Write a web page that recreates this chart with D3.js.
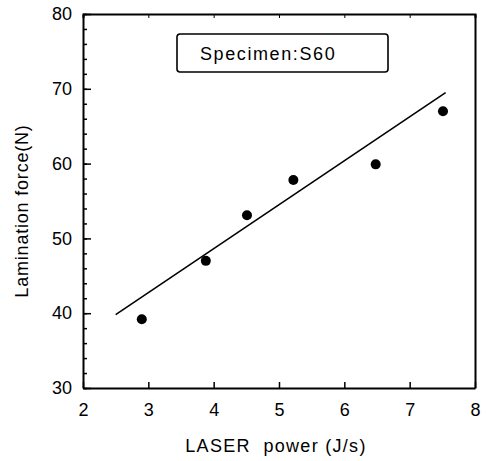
<!DOCTYPE html>
<html>
<head>
<meta charset="utf-8">
<script src="https://cdn.jsdelivr.net/npm/d3@7"></script>
<style>
  body { margin: 0; background: #fff; }
  svg { display: block; font-family: "Liberation Sans", Arial, sans-serif; }
  .axis path, .axis line { stroke: #000; }
  .axis text { font-size: 18px; fill: #000; }
</style>
</head>
<body>
<div id="container"></div>
<script>
/* data */
var powerVals = [2.9, 3.88, 4.51, 5.22, 6.48, 7.51],
	forceVals = [39.2, 47.0, 53.1, 57.8, 59.9, 67.0];
var fitX = [2.5, 7.55],
	fitY = [39.8, 69.5];
var xTicks = [2, 3, 4, 5, 6, 7, 8],
	yTicks = [30, 40, 50, 60, 70, 80],
	yMinor = d3.range(30, 81, 2);
var legendText = "Specimen:S60";

var w = 486, h = 461;
var margin = {top: 14, right: 11, bottom: 73, left: 83};
var width = w - margin.left - margin.right,
	height = h - margin.top - margin.bottom;

var svg = d3.select('#container').append('svg')
	.attr('width', w)
	.attr('height', h);

var chart = svg.append('g')
	.attr('transform', 'translate(' + margin.left + ',' + margin.top + ')');

/* scales */
var xScale = d3.scaleLinear().domain([2, 8]).range([0, width]),
	yScale = d3.scaleLinear().domain([30, 80]).range([height, 0]);

/* frame: top and right sides */
chart.append('g')
	.classed('axis', true)
	.call(d3.axisTop(xScale).tickValues(xTicks.slice(1, -1)).tickSize(-4).tickFormat(''))
	.select('.domain').attr('stroke-width', 2);

chart.append('g')
	.classed('axis', true)
	.attr('transform', 'translate(' + width + ',0)')
	.call(d3.axisRight(yScale).tickValues([]).tickSizeOuter(0))
	.select('.domain').attr('stroke-width', 2);

/* x axis */
var xAxis = chart.append('g')
	.classed('axis', true)
	.attr('transform', 'translate(0,' + height + ')')
	.call(d3.axisBottom(xScale).tickValues(xTicks).tickFormat(d3.format('d'))
		.tickSize(-6).tickSizeOuter(0).tickPadding(15));
xAxis.select('.domain').attr('stroke-width', 2);
xAxis.selectAll('line').attr('stroke-width', 1.5);

/* y axis, minor then major */
chart.append('g')
	.classed('axis', true)
	.call(d3.axisLeft(yScale).tickValues(yMinor).tickSize(-4).tickFormat(''))
	.selectAll('line').attr('stroke-width', 1.5);

var yAxis = chart.append('g')
	.classed('axis', true)
	.call(d3.axisLeft(yScale).tickValues(yTicks).tickFormat(d3.format('d'))
		.tickSize(-8).tickSizeOuter(0).tickPadding(11));
yAxis.select('.domain').attr('stroke-width', 2);
yAxis.selectAll('line').attr('stroke-width', 1.5);

/* fitted line */
var line = d3.line()
	.x(d => xScale(d[0]))
	.y(d => yScale(d[1]));

chart.append('path')
	.attr('d', line(d3.zip(fitX, fitY)))
	.attr('fill', 'none')
	.attr('stroke', '#000')
	.attr('stroke-width', 1.6);

/* points */
chart.selectAll('.points')
	.data(d3.zip(powerVals, forceVals))
	.enter().append('circle')
	.classed('points', true)
	.attr('cx', d => xScale(d[0]))
	.attr('cy', d => yScale(d[1]))
	.attr('r', 5)
	.attr('fill', '#000');

/* legend box */
var legend = svg.append('g').attr('transform', 'translate(177,34)');
legend.append('rect')
	.attr('width', 211)
	.attr('height', 38)
	.attr('rx', 3)
	.attr('fill', '#fff')
	.attr('stroke', '#000')
	.attr('stroke-width', 1.6);
legend.append('text')
	.attr('x', 23)
	.attr('y', 26)
	.style('font-size', '18px')
	.style('letter-spacing', '1.6px')
	.text(legendText);

/* axis titles */
svg.append('text')
	.attr('x', 276)
	.attr('y', 452)
	.attr('text-anchor', 'middle')
	.style('font-size', '18px')
	.style('letter-spacing', '1.3px')
	.style('white-space', 'pre')
	.text('LASER  power (J/s)');

svg.append('text')
	.attr('transform', 'translate(28,211) rotate(-90)')
	.attr('text-anchor', 'middle')
	.style('font-size', '18px')
	.style('letter-spacing', '0.8px')
	.text('Lamination force(N)');
</script>
</body>
</html>
